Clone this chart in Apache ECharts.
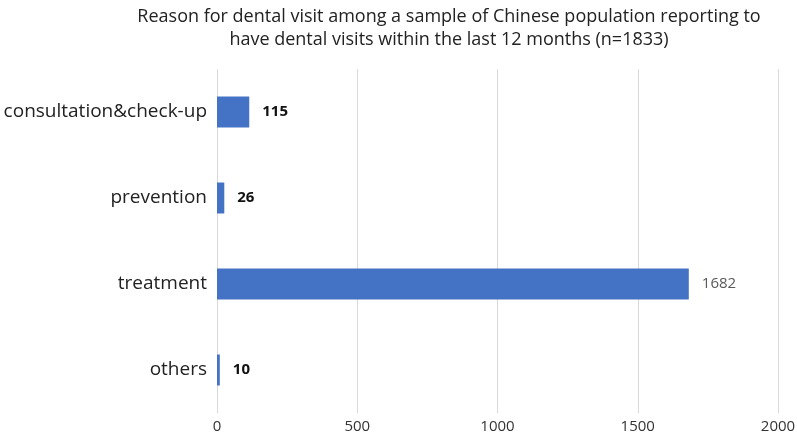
<!DOCTYPE html>
<html>
<head>
<meta charset="utf-8">
<script src="https://cdn.jsdelivr.net/npm/echarts@6/dist/echarts.min.js"></script>
<style>
  html, body { margin: 0; padding: 0; background: #fff; }
  #chart { width: 797px; height: 434px; }
</style>
</head>
<body>
<div id="chart"></div>
<script>
  // chart data
  const categories = ["consultation&check-up", "prevention", "treatment", "others"];
  const visits = [115, 26, 1682, 10];
  const xTicks = [0, 500, 1000, 1500, 2000];
  const titleLines = [
    "Reason for dental visit among a sample of Chinese population reporting to",
    "have dental visits within the last 12 months (n=1833)",
  ];
  // the one label Excel left in the default grey
  const greyLabelCategories = ["treatment"];

  const fontFamily = "'Open Sans', 'Noto Sans', sans-serif";

  const myChart = echarts.init(document.getElementById("chart"));

  const option = {
    animation: false,
    title: {
      text: titleLines.join("\n"),
      left: 444,
      top: 0,
      textAlign: "center",
      textStyle: {
        color: "#222",
        fontSize: 18,
        fontWeight: "normal",
        fontFamily: fontFamily,
        lineHeight: 23,
      },
    },
    grid: {
      left: 217,
      right: 19,
      top: 69,
      bottom: 21,
      outerBoundsMode: "none",
      containLabel: false,
    },
    xAxis: {
      type: "value",
      min: xTicks[0],
      max: xTicks[xTicks.length - 1],
      interval: xTicks[1] - xTicks[0],
      axisLine: { show: false },
      axisTick: { show: false },
      axisLabel: {
        color: "#333",
        fontSize: 15,
        fontFamily: fontFamily,
        margin: 6,
        formatter: (v) => String(v),
      },
      splitLine: { lineStyle: { color: "#d9d9d9", width: 1 } },
    },
    yAxis: {
      type: "category",
      data: categories,
      inverse: true,
      axisLine: { show: false },
      axisTick: { show: false },
      axisLabel: {
        color: "#222",
        fontSize: 19,
        fontFamily: fontFamily,
        margin: 10,
      },
    },
    series: [
      {
        type: "bar",
        barWidth: 31,
        itemStyle: { color: "#4472C4" },
        label: {
          show: true,
          position: "right",
          distance: 13,
          color: "#111",
          fontSize: 15,
          fontWeight: "bold",
          fontFamily: fontFamily,
        },
        data: visits.map((v, i) =>
          greyLabelCategories.includes(categories[i])
            ? { value: v, label: { color: "#595959", fontWeight: "normal" } }
            : v
        ),
      },
    ],
  };

  myChart.setOption(option);
</script>
</body>
</html>
